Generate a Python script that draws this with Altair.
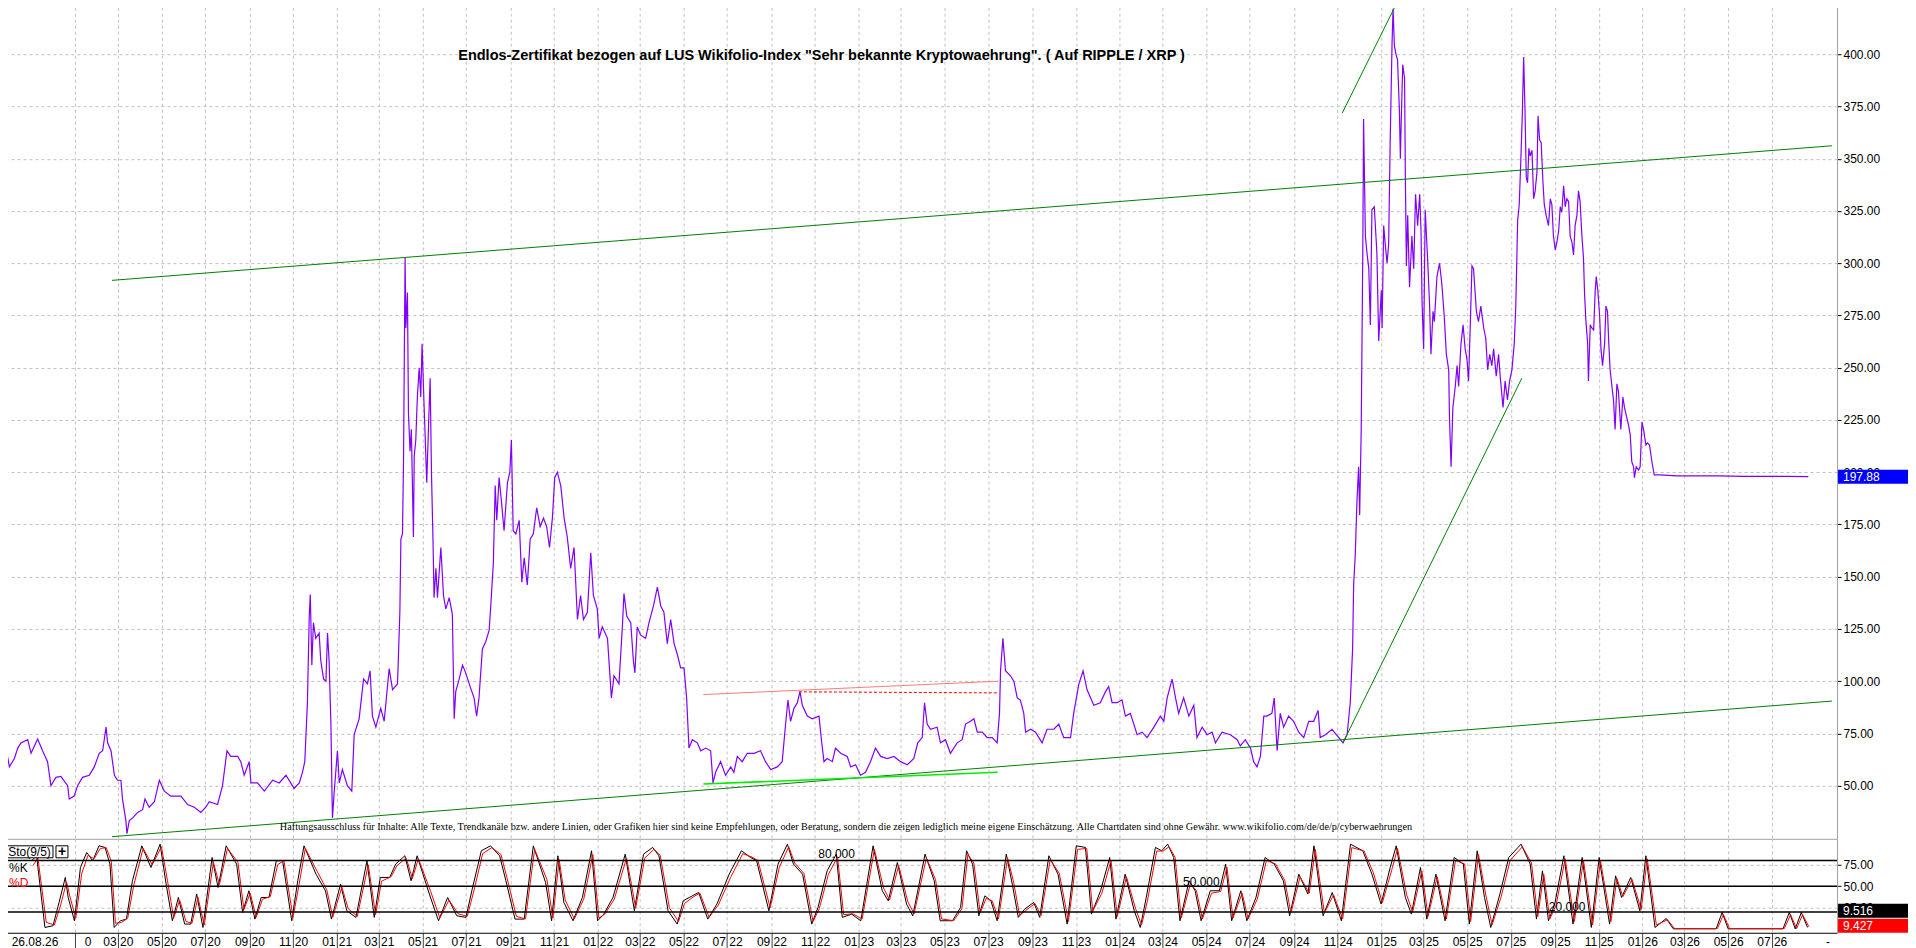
import altair as alt
import pandas as pd

# ---------------- data (decimal year, value) ----------------
price_2019_2021 = [
    [2019.736, 68], [2019.749, 59], [2019.768, 63], [2019.781, 68], [2019.793, 70.5],
    [2019.819, 72], [2019.832, 65.5], [2019.857, 72.3], [2019.876, 66.7], [2019.895, 61.5],
    [2019.908, 50], [2019.927, 54], [2019.946, 54.4], [2019.972, 50], [2019.978, 43.6],
    [2019.997, 45], [2020.010, 50], [2020.029, 54], [2020.055, 55], [2020.074, 59],
    [2020.093, 65.5], [2020.106, 66.7], [2020.119, 78], [2020.125, 70.5], [2020.138, 66.7],
    [2020.151, 55], [2020.163, 52.6], [2020.176, 52.6], [2020.182, 43.6], [2020.195, 33.3],
    [2020.199, 27], [2020.208, 33.3], [2020.221, 34.6], [2020.240, 37.2], [2020.259, 38.5],
    [2020.268, 43.6], [2020.284, 39.7], [2020.304, 42.3], [2020.323, 52.6], [2020.342, 47.4],
    [2020.367, 45], [2020.406, 45], [2020.431, 41], [2020.457, 39.7], [2020.482, 37.2],
    [2020.501, 39.7], [2020.514, 42.3], [2020.546, 41], [2020.565, 50], [2020.582, 66.7],
    [2020.597, 64], [2020.623, 64], [2020.635, 61.5], [2020.648, 55], [2020.667, 61.5],
    [2020.674, 51.3], [2020.699, 51.3], [2020.725, 47.4], [2020.757, 52.6], [2020.782, 51.3],
    [2020.808, 55], [2020.839, 48.7], [2020.859, 51.3], [2020.871, 56.4], [2020.880, 61.5],
    [2020.890, 89.7], [2020.897, 131], [2020.901, 141.5], [2020.907, 107.7], [2020.913, 128],
    [2020.922, 120.5], [2020.935, 123], [2020.941, 110], [2020.952, 101], [2020.961, 100],
    [2020.967, 123], [2020.973, 110], [2020.980, 79.5], [2020.984, 47.4], [2020.986, 34.6],
    [2020.992, 46], [2021.005, 66.7], [2021.012, 51.3], [2021.024, 57.7], [2021.043, 50],
    [2021.060, 47.4], [2021.069, 74.4], [2021.088, 82], [2021.105, 101], [2021.120, 98.7],
    [2021.130, 105], [2021.139, 83.3], [2021.152, 78], [2021.171, 87], [2021.184, 80.8],
    [2021.203, 106], [2021.216, 96], [2021.235, 98.7], [2021.244, 133], [2021.248, 168],
    [2021.254, 170.5], [2021.258, 205], [2021.264, 302.6], [2021.267, 269], [2021.273, 286],
    [2021.277, 228], [2021.283, 210], [2021.288, 220.5], [2021.296, 169], [2021.299, 207.7],
    [2021.305, 215.4], [2021.311, 236], [2021.318, 250], [2021.324, 236], [2021.329, 261.5],
    [2021.337, 231], [2021.347, 195], [2021.354, 223], [2021.360, 245], [2021.365, 200],
    [2021.371, 166.7], [2021.375, 140], [2021.382, 154], [2021.388, 140], [2021.401, 164],
    [2021.411, 141], [2021.420, 134.6], [2021.433, 140], [2021.445, 132], [2021.452, 82],
    [2021.458, 95], [2021.471, 101], [2021.484, 107.7], [2021.496, 104], [2021.513, 97.4],
]
price_2021_2023 = [
    [2021.528, 92], [2021.538, 83.3], [2021.547, 92], [2021.560, 115.4], [2021.573, 119],
    [2021.586, 124.4], [2021.592, 136], [2021.602, 156.4], [2021.609, 193.6], [2021.615, 177],
    [2021.624, 197.4], [2021.633, 186], [2021.643, 172], [2021.656, 195], [2021.665, 200],
    [2021.671, 215.4], [2021.678, 172], [2021.688, 170.5], [2021.701, 177], [2021.711, 147.4],
    [2021.720, 159], [2021.732, 146], [2021.743, 168], [2021.755, 170.5], [2021.768, 183],
    [2021.781, 174], [2021.794, 178], [2021.806, 174], [2021.817, 164], [2021.828, 178],
    [2021.837, 197.4], [2021.847, 200], [2021.860, 193.6], [2021.873, 178], [2021.885, 169],
    [2021.898, 154], [2021.911, 164], [2021.924, 129.5], [2021.936, 141], [2021.947, 129.5],
    [2021.962, 133], [2021.975, 161.5], [2021.985, 141], [2022.000, 134.6], [2022.007, 120.5],
    [2022.019, 126], [2022.039, 120.5], [2022.054, 92], [2022.064, 102.6], [2022.083, 98.7],
    [2022.096, 126], [2022.102, 142], [2022.113, 131], [2022.128, 128], [2022.138, 110],
    [2022.144, 104], [2022.153, 126], [2022.166, 122], [2022.185, 120.5], [2022.198, 128],
    [2022.215, 136], [2022.230, 145], [2022.243, 136], [2022.255, 133], [2022.268, 118],
    [2022.281, 129.5], [2022.294, 118], [2022.306, 113], [2022.319, 106.4], [2022.332, 106.4],
    [2022.342, 92], [2022.351, 68], [2022.364, 72], [2022.383, 70.5], [2022.396, 66.7],
    [2022.415, 68], [2022.434, 66.7], [2022.443, 51.3], [2022.453, 56.4], [2022.472, 61.5],
    [2022.491, 55], [2022.511, 59], [2022.523, 56.4], [2022.536, 64], [2022.555, 61.5],
    [2022.574, 65.5], [2022.600, 65.5], [2022.625, 66.7], [2022.644, 61.5], [2022.664, 57.7],
    [2022.689, 59], [2022.708, 61.5], [2022.721, 79.5], [2022.730, 91], [2022.740, 80.8],
    [2022.753, 87], [2022.766, 89.7], [2022.776, 95], [2022.785, 88.5], [2022.804, 83.3],
    [2022.823, 82], [2022.849, 83.3], [2022.858, 72], [2022.868, 61.5], [2022.880, 63],
    [2022.900, 61.5], [2022.912, 68], [2022.932, 65.5], [2022.957, 64], [2022.970, 59],
    [2022.989, 60], [2023.008, 55], [2023.027, 56.4], [2023.046, 61.5], [2023.065, 68],
    [2023.085, 64], [2023.110, 63], [2023.136, 64], [2023.161, 61.5], [2023.187, 60],
    [2023.212, 63], [2023.227, 70.5], [2023.244, 73], [2023.253, 89.7], [2023.263, 79.5],
    [2023.276, 77],
]
price_2023_2024 = [
    [2023.301, 78], [2023.314, 70.5], [2023.333, 72], [2023.352, 65.5], [2023.378, 70.5],
    [2023.397, 72], [2023.410, 79.5], [2023.429, 80.8], [2023.442, 82], [2023.455, 75.6],
    [2023.474, 75.6], [2023.493, 73], [2023.512, 73], [2023.531, 70.5], [2023.540, 84.6],
    [2023.544, 105], [2023.553, 120.5], [2023.563, 105], [2023.582, 102.6], [2023.595, 100],
    [2023.608, 92], [2023.620, 91], [2023.633, 84.6], [2023.640, 75.6], [2023.659, 77],
    [2023.678, 75.6], [2023.703, 70.5], [2023.722, 77], [2023.748, 77], [2023.767, 79.5],
    [2023.786, 73], [2023.812, 73], [2023.824, 84.6], [2023.844, 98.7], [2023.860, 105],
    [2023.875, 96], [2023.901, 88.5], [2023.926, 89.7], [2023.946, 95], [2023.958, 97.4],
    [2023.971, 89.7], [2023.990, 89.7], [2024.009, 91], [2024.022, 83.3], [2024.041, 84.6],
    [2024.067, 74.4], [2024.086, 75.6], [2024.105, 73], [2024.131, 78], [2024.156, 83.3],
    [2024.169, 80.8], [2024.182, 92], [2024.201, 101], [2024.214, 92], [2024.226, 84.6],
    [2024.245, 92], [2024.265, 83.3], [2024.284, 88.5], [2024.296, 73], [2024.316, 78],
    [2024.335, 74.4], [2024.354, 75.6], [2024.367, 70.5], [2024.392, 75.6], [2024.424, 74.4],
    [2024.450, 72], [2024.462, 69], [2024.481, 72], [2024.501, 68], [2024.513, 61.5],
    [2024.526, 59], [2024.539, 64], [2024.552, 83.3], [2024.564, 83.3], [2024.583, 84.6],
    [2024.592, 92], [2024.603, 66.7], [2024.615, 84.6], [2024.628, 78], [2024.647, 83.3],
    [2024.666, 80.8], [2024.686, 75.6], [2024.705, 73], [2024.724, 80.8], [2024.743, 80.8],
    [2024.760, 86], [2024.768, 73], [2024.788, 74.4], [2024.813, 77], [2024.839, 73],
    [2024.855, 70.5], [2024.871, 74.4], [2024.883, 89.7], [2024.892, 115.4], [2024.896, 146],
    [2024.902, 160], [2024.909, 187], [2024.915, 202.6], [2024.919, 179.5], [2024.925, 220.5],
    [2024.931, 305], [2024.934, 369], [2024.941, 313], [2024.947, 305], [2024.954, 297.4],
    [2024.960, 270.5], [2024.966, 325.6], [2024.975, 327], [2024.985, 305], [2024.992, 262.8],
]
price_2025_2026 = [
    [2025.002, 287], [2025.005, 269], [2025.011, 318], [2025.017, 309], [2025.024, 300],
    [2025.030, 309], [2025.036, 359], [2025.043, 405], [2025.047, 421.8], [2025.052, 404],
    [2025.058, 400], [2025.064, 397.4], [2025.071, 374], [2025.075, 350], [2025.078, 366.7],
    [2025.084, 395], [2025.091, 388.5], [2025.094, 341], [2025.098, 298.7], [2025.103, 323],
    [2025.110, 288.5], [2025.119, 313], [2025.126, 297.4], [2025.133, 333], [2025.141, 318],
    [2025.149, 333], [2025.154, 315.4], [2025.158, 280.8], [2025.164, 259], [2025.170, 325.6],
    [2025.179, 302.6], [2025.187, 279.5], [2025.192, 256.4], [2025.200, 277], [2025.205, 272],
    [2025.215, 293.6], [2025.225, 300], [2025.234, 289.7], [2025.243, 274.4], [2025.251, 256.4],
    [2025.260, 249], [2025.263, 226], [2025.269, 202.6], [2025.276, 231], [2025.285, 241],
    [2025.292, 251], [2025.298, 241], [2025.307, 261.5], [2025.315, 270.5], [2025.323, 259],
    [2025.330, 254], [2025.336, 243.6], [2025.343, 272], [2025.349, 298.7], [2025.355, 297.4],
    [2025.366, 277], [2025.374, 272], [2025.383, 279.5], [2025.394, 269], [2025.402, 264],
    [2025.409, 249], [2025.417, 256.4], [2025.425, 251], [2025.432, 259], [2025.442, 246],
    [2025.451, 256.4], [2025.457, 246], [2025.468, 231], [2025.476, 243.6], [2025.485, 234.6],
    [2025.493, 243.6], [2025.502, 249], [2025.511, 261.5], [2025.517, 280], [2025.524, 320.5],
    [2025.530, 328], [2025.536, 348.7], [2025.542, 372], [2025.547, 398.7], [2025.552, 374],
    [2025.557, 341], [2025.562, 338.5], [2025.567, 355], [2025.572, 351.3], [2025.579, 354],
    [2025.585, 330.8], [2025.591, 334.6], [2025.598, 343.6], [2025.602, 370.5], [2025.608, 359],
    [2025.614, 357.7], [2025.621, 338.5], [2025.626, 328], [2025.633, 323], [2025.642, 318],
    [2025.649, 330.8], [2025.655, 328], [2025.661, 313], [2025.668, 306.4], [2025.674, 310],
    [2025.681, 315.4], [2025.687, 327], [2025.693, 324.4], [2025.700, 337], [2025.706, 327],
    [2025.712, 330.8], [2025.719, 329.5], [2025.725, 313], [2025.732, 310], [2025.738, 304],
    [2025.744, 318], [2025.751, 323], [2025.757, 334.6], [2025.763, 329.5], [2025.770, 313],
    [2025.776, 302.6], [2025.780, 286], [2025.785, 273], [2025.792, 261.5], [2025.795, 243.6],
    [2025.802, 270.5], [2025.808, 269], [2025.815, 268], [2025.821, 287], [2025.825, 293.6],
    [2025.831, 287], [2025.838, 274.4], [2025.843, 259], [2025.849, 251], [2025.857, 261.5],
    [2025.862, 279.5], [2025.868, 277], [2025.873, 261.5], [2025.878, 249], [2025.885, 241],
    [2025.891, 234.6], [2025.897, 220.5], [2025.904, 242.3], [2025.910, 238.5], [2025.919, 220.5],
    [2025.927, 236], [2025.933, 231], [2025.942, 226], [2025.948, 223], [2025.955, 218],
    [2025.961, 205], [2025.968, 202.6], [2025.971, 197.4], [2025.978, 202.6], [2025.987, 201],
    [2025.993, 202.6], [2026.000, 224], [2026.006, 220.5], [2026.015, 213], [2026.021, 214],
    [2026.029, 213], [2026.038, 205], [2026.047, 198.7], [2026.070, 198.7], [2026.133, 198.2],
    [2026.299, 198.2], [2026.389, 198], [2026.554, 198], [2026.637, 197.88],
]

# Stochastic (9/5): time, %K, %D
sto_t = [
    2019.834, 2019.853, 2019.885, 2019.916, 2019.939, 2019.963, 2019.974, 2019.998, 2020.021, 2020.045,
    2020.068, 2020.092, 2020.115, 2020.134, 2020.150, 2020.174, 2020.197, 2020.220, 2020.256, 2020.291,
    2020.326, 2020.349, 2020.373, 2020.396, 2020.420, 2020.443, 2020.466, 2020.490, 2020.525, 2020.548,
    2020.579, 2020.619, 2020.642, 2020.666, 2020.689, 2020.713, 2020.743, 2020.771, 2020.795, 2020.830,
    2020.853, 2020.877, 2020.923, 2020.959, 2020.982, 2021.017, 2021.041, 2021.076, 2021.118, 2021.146,
    2021.169, 2021.205, 2021.228, 2021.263, 2021.287, 2021.310, 2021.357, 2021.392, 2021.427, 2021.462,
    2021.497, 2021.521, 2021.556, 2021.591, 2021.626, 2021.650, 2021.685, 2021.720, 2021.755, 2021.802,
    2021.825, 2021.849, 2021.872, 2021.907, 2021.943, 2021.978, 2022.001, 2022.025, 2022.060, 2022.107,
    2022.142, 2022.177, 2022.212, 2022.236, 2022.271, 2022.306, 2022.329, 2022.364, 2022.388, 2022.423,
    2022.458, 2022.505, 2022.552, 2022.587, 2022.610, 2022.657, 2022.692, 2022.728, 2022.751, 2022.786,
    2022.821, 2022.845, 2022.880, 2022.915, 2022.938, 2022.974, 2023.009, 2023.056, 2023.091, 2023.114,
    2023.149, 2023.184, 2023.208, 2023.255, 2023.290, 2023.313, 2023.360, 2023.391, 2023.414, 2023.437,
    2023.461, 2023.484, 2023.507, 2023.531, 2023.566, 2023.589, 2023.612, 2023.636, 2023.671, 2023.694,
    2023.729, 2023.764, 2023.799, 2023.834, 2023.869, 2023.892, 2023.927, 2023.962, 2023.986, 2024.021,
    2024.056, 2024.079, 2024.102, 2024.137, 2024.161, 2024.184, 2024.207, 2024.231, 2024.266, 2024.289,
    2024.312, 2024.347, 2024.382, 2024.406, 2024.429, 2024.464, 2024.487, 2024.522, 2024.557, 2024.592,
    2024.627, 2024.651, 2024.686, 2024.721, 2024.744, 2024.779, 2024.814, 2024.849, 2024.884, 2024.931,
    2024.966, 2025.001, 2025.036, 2025.059, 2025.094, 2025.117, 2025.152, 2025.176, 2025.211, 2025.246,
    2025.281, 2025.316, 2025.339, 2025.369, 2025.397, 2025.421, 2025.456, 2025.490, 2025.537, 2025.572,
    2025.596, 2025.619, 2025.642, 2025.666, 2025.701, 2025.736, 2025.771, 2025.806, 2025.836, 2025.876,
    2025.899, 2025.922, 2025.957, 2025.992, 2026.015, 2026.050, 2026.093, 2026.120, 2026.284, 2026.307,
    2026.330, 2026.540, 2026.564, 2026.587, 2026.610, 2026.634,
]
sto_k = [
    79.7, 85.5, 2.1, 4.1, 31.2, 60.3, 37.0, 9.9, 71.9, 89.3,
    79.7, 97.1, 95.2, 75.8, 2.1, 9.9, 11.8, 56.4, 97.1, 71.9,
    99.0, 52.5, 9.9, 37.0, 6.0, 6.0, 40.9, 2.1, 83.5, 48.6,
    97.1, 75.8, 19.6, 44.8, 11.8, 37.0, 37.0, 79.7, 79.7, 9.9,
    56.4, 97.1, 64.1, 44.8, 11.8, 52.5, 21.5, 13.8, 79.7, 13.8,
    60.3, 60.3, 75.8, 85.5, 56.4, 85.5, 40.9, 9.9, 37.0, 15.7,
    13.8, 46.7, 91.3, 97.1, 85.5, 56.4, 11.8, 11.8, 97.1, 54.5,
    9.9, 85.5, 31.2, 9.9, 37.0, 91.3, 9.9, 17.6, 37.0, 87.4,
    21.5, 87.4, 95.2, 85.5, 21.5, 6.0, 33.1, 38.9, 42.8, 11.8,
    29.3, 64.1, 91.3, 83.5, 79.7, 21.5, 75.8, 99.0, 75.8, 64.1,
    6.0, 25.4, 68.0, 87.4, 13.8, 17.6, 9.9, 97.1, 44.8, 33.1,
    77.7, 29.3, 15.7, 87.4, 56.4, 9.9, 9.9, 25.4, 91.3, 75.8,
    15.7, 38.9, 33.1, 9.9, 87.4, 52.5, 13.8, 23.4, 31.2, 13.8,
    85.5, 64.1, 6.0, 97.1, 95.2, 17.6, 44.8, 83.5, 11.8, 64.1,
    21.5, 2.1, 37.0, 95.2, 91.3, 99.0, 83.5, 9.9, 56.4, 44.8,
    9.9, 44.8, 44.8, 75.8, 9.9, 44.8, 9.9, 37.0, 83.5, 75.8,
    56.4, 15.7, 64.1, 40.9, 97.1, 15.7, 42.8, 9.9, 99.0, 91.3,
    64.1, 29.3, 71.9, 97.1, 37.0, 17.6, 71.9, 11.8, 64.1, 9.9,
    83.5, 75.8, 6.0, 91.3, 37.0, 2.1, 40.9, 83.5, 99.0, 75.8,
    11.8, 68.0, 9.9, 29.3, 85.5, 6.0, 83.5, 2.1, 83.5, 6.0,
    62.2, 37.0, 60.3, 21.5, 85.5, 2.1, 12.5, 0.5, 0.5, 19.6,
    0.5, 0.5, 19.6, 0.5, 19.6, 2.1,
]
sto_d = [
    74, 83, 8, 5, 27, 55, 40, 13, 65, 86,
    82, 94, 95, 79, 7, 8, 13, 51, 94, 75,
    96, 57, 13, 34, 9, 7, 37, 5, 78, 52,
    94, 78, 23, 42, 14, 35, 38, 75, 80, 14,
    52, 94, 67, 46, 14, 49, 24, 15, 75, 17,
    56, 61, 74, 83, 59, 82, 44, 13, 34, 18,
    15, 43, 88, 95, 87, 59, 15, 12, 93, 58,
    13, 81, 34, 12, 35, 87, 13, 18, 35, 83,
    25, 83, 93, 86, 25, 9, 30, 38, 42, 14,
    28, 60, 88, 84, 80, 25, 72, 96, 77, 65,
    9, 24, 64, 84, 17, 18, 12, 93, 48, 34,
    74, 32, 18, 83, 58, 12, 10, 24, 87, 77,
    19, 36, 33, 12, 83, 55, 16, 22, 30, 16,
    81, 65, 9, 93, 94, 21, 42, 80, 15, 61,
    24, 5, 34, 91, 91, 96, 84, 13, 53, 45,
    12, 42, 44, 72, 13, 42, 12, 35, 80, 76,
    57, 19, 61, 42, 93, 19, 40, 12, 95, 91,
    66, 31, 68, 94, 40, 20, 68, 15, 61, 12,
    80, 76, 9, 87, 40, 5, 38, 80, 96, 77,
    15, 64, 12, 28, 82, 9, 80, 5, 80, 9,
    59, 38, 58, 23, 82, 5, 11, 0.8, 0.8, 17,
    0.8, 0.8, 17, 0.8, 17, 3,
]

last_price = 197.88
last_k = 9.516
last_d = 9.427
last_date_label = "26.08.26"

main_ticks = [50, 75, 100, 125, 150, 175, 200, 225, 250, 275, 300, 325, 350, 375, 400]
sto_ticks = [25, 50, 75]
sto_levels = [80, 50, 20]

trend_green = {
    "upper": [[2020.142, 291.8], [2026.728, 356.2]],
    "lower": [[2020.142, 25.6], [2026.728, 90.5]],
    "steep_top": [[2024.852, 371.8], [2025.075, 428.0]],
    "steep_bottom": [[2024.855, 70.5], [2025.540, 245.0]],
}
trend_red = [[2022.406, 93.6], [2023.537, 100.0]]
trend_red_dashed = [[2022.772, 94.9], [2023.537, 94.4]]
trend_lime = [[2022.406, 50.8], [2023.533, 56.4]]

TITLE = ('Endlos-Zertifikat bezogen auf LUS Wikifolio-Index "Sehr bekannte '
         'Kryptowaehrung". ( Auf RIPPLE / XRP )')
DISCLAIMER = ("Haftungsausschluss für Inhalte: Alle Texte, Trendkanäle bzw. andere Linien, "
              "oder Grafiken hier sind keine Empfehlungen, oder Beratung, sondern die zeigen "
              "lediglich meine eigene Einschätzung. Alle Chartdaten sind ohne Gewähr.  "
              "www.wikifolio.com/de/de/p/cyberwaehrungen")

# visible time window (decimal years)
T0, T1 = 2019.7168, 2026.7469

# ---------------- helpers ----------------
BASE = pd.Timestamp("2020-01-01")


def to_date(t):
    return BASE + pd.to_timedelta((t - 2020.0) * 365.25, unit="D")


def dt(ts):
    return alt.DateTime(year=ts.year, month=ts.month, date=ts.day,
                        hours=ts.hour, minutes=ts.minute)


W, H_MAIN, H_STO = 1837, 838, 94
FONT = "Liberation Sans"
GRID = "#c0c0c0"

price_df = pd.DataFrame(price_2019_2021 + price_2021_2023 + price_2023_2024 + price_2025_2026,
                        columns=["t", "value"])
price_df["date"] = price_df["t"].map(to_date)

rows = []
for name, pts in trend_green.items():
    for t, v in pts:
        rows.append({"name": name, "kind": "green", "t": t, "value": v})
for kind, pts in [("red", trend_red), ("reddash", trend_red_dashed), ("lime", trend_lime)]:
    for t, v in pts:
        rows.append({"name": kind, "kind": kind, "t": t, "value": v})
trend_df = pd.DataFrame(rows)
trend_df["date"] = trend_df["t"].map(to_date)

D_LAG = 0.005
sto_df = pd.DataFrame({"t": sto_t, "k": sto_k, "d": sto_d})
sto_df["date"] = sto_df["t"].map(to_date)
sto_df["date_d"] = (sto_df["t"] + D_LAG).map(to_date)

levels_df = pd.DataFrame({"level": sto_levels})
last_df = pd.DataFrame({"date": [to_date(price_df["t"].iloc[-1])]})
one = pd.DataFrame({"a": [0]})

grid_vals = [dt(ts) for ts in pd.date_range("2020-01-01", "2026-07-01", freq="2MS")]
x_scale = alt.Scale(domain=[dt(to_date(T0)), dt(to_date(T1))])

LBL = dict(labelFont=FONT, labelFontSize=12, labelColor="black")

x_axis_main = alt.Axis(values=grid_vals, labels=False, ticks=False, domain=True,
                       domainColor="#a0a0a0", grid=True, gridColor=GRID, gridDash=[3, 3],
                       title=None)
y_scale_main = alt.Scale(domain=[24.58, 425.35], nice=False, zero=False)
y_axis_main = alt.Axis(orient="right", values=main_ticks, format=".2f", grid=True,
                       gridColor=GRID, gridDash=[3, 3], tickSize=4, tickColor="black",
                       domain=True, domainColor="#a0a0a0", labelPadding=2, title=None,
                       **LBL)


def XM(field="date"):
    return alt.X(f"{field}:T", scale=x_scale, axis=x_axis_main)


def YM(field="value"):
    return alt.Y(f"{field}:Q", scale=y_scale_main, axis=y_axis_main)


def YMd(v):
    return alt.Y(datum=v, type="quantitative", scale=y_scale_main, axis=y_axis_main)


price = alt.Chart(price_df).mark_line(color="#8000ff", strokeWidth=1.2, clip=True).encode(
    x=XM(), y=YM(), order="t:Q")

green = alt.Chart(trend_df[trend_df.kind == "green"]).mark_line(
    color="#008000", strokeWidth=1, clip=True).encode(x=XM(), y=YM(), detail="name:N")
red = alt.Chart(trend_df[trend_df.kind == "red"]).mark_line(
    color="#ff7a7a", strokeWidth=1, clip=True).encode(x=XM(), y=YM())
reddash = alt.Chart(trend_df[trend_df.kind == "reddash"]).mark_line(
    color="#ff0000", strokeWidth=1, strokeDash=[3, 2], clip=True).encode(x=XM(), y=YM())
lime = alt.Chart(trend_df[trend_df.kind == "lime"]).mark_line(
    color="#00ee00", strokeWidth=1.6, clip=True).encode(x=XM(), y=YM())

title_txt = alt.Chart(one).mark_text(
    text=TITLE, font=FONT, fontSize=14.5, fontWeight="bold", color="black",
    align="center", baseline="middle").encode(x=alt.value(821), y=alt.value(55))
disc_txt = alt.Chart(one).mark_text(
    text=DISCLAIMER, font="Liberation Serif", fontSize=10.2, color="black",
    align="left", baseline="middle").encode(x=alt.value(279), y=alt.value(826))

tag_rect = alt.Chart(one).mark_rect(color="#0000ff", yOffset=-7, y2Offset=7).encode(
    x=alt.value(W + 1), x2=alt.value(1916), y=YMd(last_price), y2=alt.Y2(datum=last_price))
tag_txt = alt.Chart(one).mark_text(
    text=f"{last_price:.2f}", font=FONT, fontSize=12, color="white",
    align="left", baseline="middle").encode(x=alt.value(W + 6), y=YMd(last_price))

tri = alt.Chart(last_df).mark_point(shape="triangle-down", filled=True, color="#2ecc40",
                                    size=30, opacity=1).encode(x=XM(), y=alt.value(4))

top_line = alt.Chart(one).mark_rule(color="black", strokeWidth=1).encode(
    x=alt.value(0), x2=alt.value(W), y=alt.value(0.5))
left_line = alt.Chart(one).mark_rule(color="black", strokeWidth=1).encode(
    x=alt.value(0.5), y=alt.value(0), y2=alt.value(H_MAIN))

main = alt.layer(price, green, red, reddash, lime, title_txt, disc_txt,
                 tag_rect, tag_txt, tri, top_line, left_line).properties(
    width=W, height=H_MAIN)

# ---------------- stochastic panel ----------------
x_axis_sto = alt.Axis(
    values=grid_vals,
    labelExpr="(year(datum.value) == 2020 && month(datum.value) == 0) ? '' : timeFormat(datum.value, '%m %y')",
    grid=True, gridColor=GRID, gridDash=[3, 3], tickSize=15, tickColor="#404040",
    labelPadding=-11, domain=True, domainColor="black", title=None,
    labelOverlap=False, labelFlush=False, labelAngle=0, **LBL)
y_scale_sto = alt.Scale(domain=[-4.07, 105.23], nice=False, zero=False)
y_axis_sto = alt.Axis(orient="right", values=sto_ticks, format=".2f", grid=True,
                      gridColor=GRID, gridDash=[3, 3], tickSize=4, tickColor="black",
                      domain=True, domainColor="#a0a0a0", labelPadding=2, title=None,
                      **LBL)


def XS(field="date"):
    return alt.X(f"{field}:T", scale=x_scale, axis=x_axis_sto)


def YS(field):
    return alt.Y(f"{field}:Q", scale=y_scale_sto, axis=y_axis_sto)


def YSd(v):
    return alt.Y(datum=v, type="quantitative", scale=y_scale_sto, axis=y_axis_sto)


k_line = alt.Chart(sto_df).mark_line(color="black", strokeWidth=1, clip=True).encode(
    x=XS(), y=YS("k"), order="t:Q")
d_line = alt.Chart(sto_df).mark_line(color="#ff0000", strokeWidth=1, clip=True).encode(
    x=XS("date_d"), y=YS("d"), order="t:Q")
lvl = alt.Chart(levels_df).mark_rule(color="black", strokeWidth=1.5).encode(y=YS("level"))

lvl_txt = [
    alt.Chart(one).mark_text(text=f"{v:.3f}", font=FONT, fontSize=12, color="black",
                             align="center", baseline="middle", yOffset=off).encode(
        x=alt.value(px), y=YSd(v))
    for v, px, off in [(80, 836, -6), (50, 1201, -4.5), (20, 1567, -5)]
]

k_tag = alt.Chart(one).mark_rect(color="black", yOffset=-17.3, y2Offset=-3.3).encode(
    x=alt.value(W + 1), x2=alt.value(1916), y=YSd(last_k), y2=alt.Y2(datum=last_k))
k_tag_txt = alt.Chart(one).mark_text(text=f"{last_k:.3f}", font=FONT, fontSize=12,
                                     color="white", align="left", baseline="middle",
                                     yOffset=-10.3).encode(x=alt.value(W + 6), y=YSd(last_k))
d_tag = alt.Chart(one).mark_rect(color="#ff0000", yOffset=-2.4, y2Offset=11.6).encode(
    x=alt.value(W + 1), x2=alt.value(1916), y=YSd(last_d), y2=alt.Y2(datum=last_d))
d_tag_txt = alt.Chart(one).mark_text(text=f"{last_d:.3f}", font=FONT, fontSize=12,
                                     color="white", align="left", baseline="middle",
                                     yOffset=4.6).encode(x=alt.value(W + 6), y=YSd(last_d))

sto_box = alt.Chart(one).mark_rect(fill="white", stroke="black", strokeWidth=1).encode(
    x=alt.value(5), x2=alt.value(52), y=alt.value(7), y2=alt.value(19))
sto_box_txt = alt.Chart(one).mark_text(text="Sto(9/5)", font=FONT, fontSize=12,
                                       color="black", align="center",
                                       baseline="middle").encode(
    x=alt.value(28.5), y=alt.value(13.5))
plus_box = alt.Chart(one).mark_rect(fill="white", stroke="black", strokeWidth=1).encode(
    x=alt.value(55), x2=alt.value(67), y=alt.value(7), y2=alt.value(19))
plus_txt = alt.Chart(one).mark_text(text="+", font=FONT, fontSize=14, fontWeight="bold",
                                    color="black", align="center", baseline="middle").encode(
    x=alt.value(61), y=alt.value(13))
k_lbl = alt.Chart(one).mark_text(text="%K", font=FONT, fontSize=12, color="black",
                                 align="left", baseline="middle").encode(
    x=alt.value(8), y=alt.value(29))
d_lbl = alt.Chart(one).mark_text(text="%D", font=FONT, fontSize=12, color="#ff0000",
                                 align="left", baseline="middle").encode(
    x=alt.value(8), y=alt.value(44))
date_lbl = alt.Chart(one).mark_text(text=last_date_label, font=FONT, fontSize=12,
                                    color="black", align="center",
                                    baseline="alphabetic").encode(
    x=alt.value(34), y=alt.value(107.5))
zero_lbl = alt.Chart(one).mark_text(text="0", font=FONT, fontSize=12, color="black",
                                    align="center", baseline="alphabetic").encode(
    x=alt.value(87), y=alt.value(107.5))
dash_lbl = alt.Chart(one).mark_text(text="-", font=FONT, fontSize=12, color="black",
                                    align="center", baseline="alphabetic").encode(
    x=alt.value(1828), y=alt.value(107.5))
left_line_s = alt.Chart(one).mark_rule(color="black", strokeWidth=1).encode(
    x=alt.value(0.5), y=alt.value(0), y2=alt.value(H_STO))

sto = alt.layer(k_line, d_line, lvl, *lvl_txt, k_tag, k_tag_txt, d_tag, d_tag_txt,
                sto_box, sto_box_txt, plus_box, plus_txt, k_lbl, d_lbl,
                date_lbl, zero_lbl, dash_lbl, left_line_s).properties(width=W, height=H_STO)

chart = alt.vconcat(main, sto, spacing=0, bounds="flush").properties(
    padding={"left": -8, "top": -8, "right": -8, "bottom": 0},
    background="white",
).configure_view(stroke=None).configure_axis(
    labelFont=FONT, labelFontSize=12, labelColor="black"
)

chart.save("out.html", embed_options={"renderer": "svg", "actions": False})
